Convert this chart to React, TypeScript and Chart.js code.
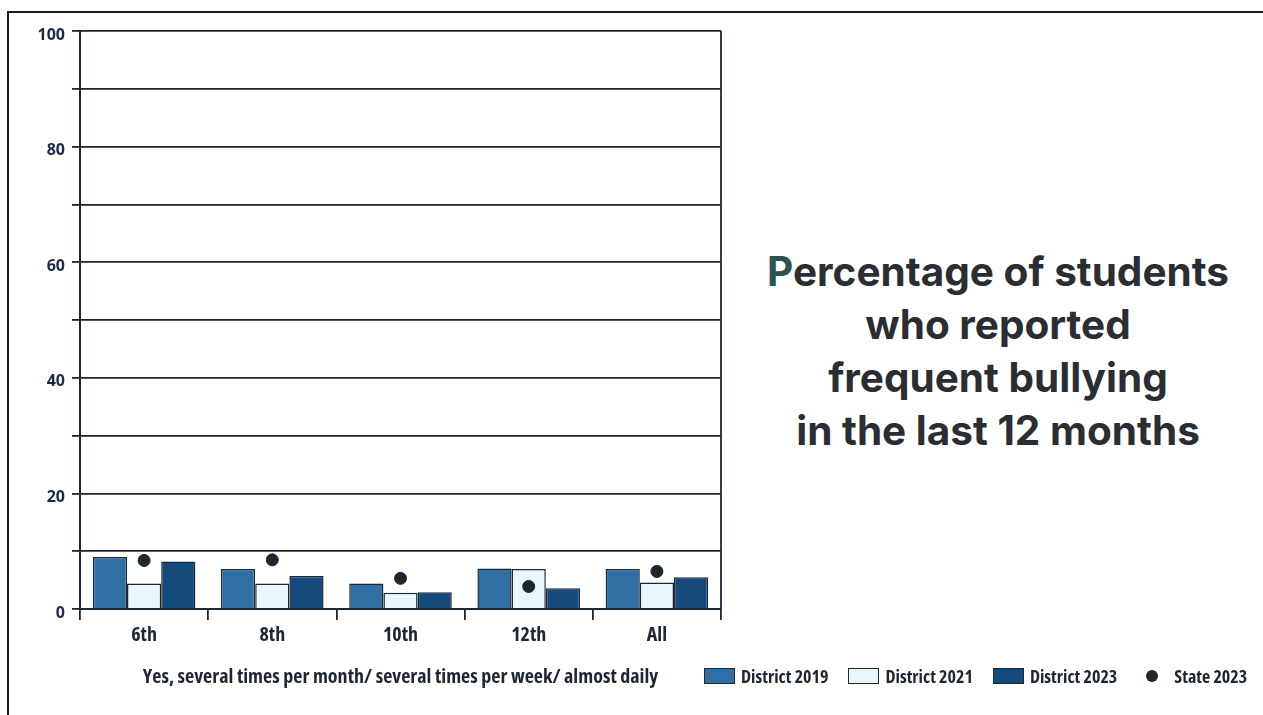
import React, { useEffect, useRef } from "react";
import { Chart, registerables } from "chart.js";

Chart.register(...registerables);

// Grades surveyed
const grades = ["6th", "8th", "10th", "12th", "All"];

// Percent reporting frequent bullying
const district2019 = [9.0, 6.9, 4.4, 7.0, 6.9];
const district2021 = [4.4, 4.4, 2.8, 6.9, 4.6];
const district2023 = [8.2, 5.7, 2.9, 3.6, 5.5];
const state2023 = [8.4, 8.5, 5.3, 3.9, 6.5];

const yTickValues = [0, 20, 40, 60, 80, 100];

const xAxisTitle = "Yes, several times per month/ several times per week/ almost daily";
const titleLines = ["Percentage of students", "who reported", "frequent bullying", "in the last 12 months"];

const INK = "#1c2733";
const COND = "'Open Sans', 'DejaVu Sans', sans-serif";
// canvas font shorthand accepts a stretch keyword after the weight
const COND_WEIGHT = "bold condensed";

const series = [
  { label: "District 2019", data: district2019, color: "#2f6fa4" },
  { label: "District 2021", data: district2021, color: "#e9f6fb" },
  { label: "District 2023", data: district2023, color: "#154a7d" },
];

const rightEdge = {
  id: "rightEdge",
  afterDraw(chart: any) {
    const { ctx, chartArea } = chart;
    ctx.save();
    ctx.strokeStyle = INK;
    ctx.lineWidth = 1.8;
    ctx.beginPath();
    ctx.moveTo(chartArea.right, chartArea.top);
    ctx.lineTo(chartArea.right, chartArea.bottom);
    ctx.stroke();
    ctx.restore();
  },
};

function BullyingChart() {
  const ref = useRef<HTMLCanvasElement | null>(null);

  useEffect(() => {
    if (!ref.current) return;
    const chart = new Chart(ref.current, {
      type: "bar",
      data: {
        labels: grades,
        datasets: [
          ...series.map((s) => ({
            type: "bar" as const,
            label: s.label,
            data: s.data,
            backgroundColor: s.color,
            borderColor: INK,
            borderWidth: 1.5,
            categoryPercentage: 0.8,
            barPercentage: 1.0,
            order: 1,
          })),
          {
            type: "line" as const,
            label: "State 2023",
            data: state2023,
            showLine: false,
            pointRadius: 6,
            pointHoverRadius: 6,
            pointBackgroundColor: INK,
            pointBorderColor: INK,
            order: 0,
          },
        ],
      },
      options: {
        responsive: false,
        animation: false,
        layout: { padding: { left: 0, top: 31, right: 19, bottom: 26 } },
        plugins: { legend: { display: false }, tooltip: { enabled: false } },
        scales: {
          x: {
            offset: true,
            grid: {
              display: true,
              drawOnChartArea: false,
              drawTicks: true,
              tickLength: 11,
              color: INK,
              lineWidth: 1.8,
            },
            border: { display: true, color: INK, width: 2 },
            ticks: {
              color: INK,
              padding: 3,
              font: { family: COND, size: 20, weight: COND_WEIGHT as any },
            },
            title: {
              display: true,
              text: xAxisTitle,
              color: INK,
              padding: { top: 0, bottom: 0 },
              font: { family: COND, size: 20, weight: COND_WEIGHT as any },
            },
            afterFit: (s: any) => {
              s.height = 80;
            },
          },
          y: {
            min: 0,
            max: 100,
            ticks: {
              stepSize: 10,
              color: "#1a2a46",
              padding: 7,
              labelOffset: 4,
              font: { family: "'Open Sans', sans-serif", size: 16, weight: "bold" },
              callback: (v: any) => (yTickValues.includes(Number(v)) ? String(v) : ""),
            },
            grid: { color: "#222222", lineWidth: 1.8, tickLength: 8 },
            border: { display: true, color: INK, width: 2 },
            afterFit: (s: any) => {
              s.width = 80;
            },
          },
        },
      },
      plugins: [rightEdge],
    });
    return () => chart.destroy();
  }, []);

  return <canvas ref={ref} width={740} height={715} style={{ position: "absolute", left: 0, top: 0 }} />;
}

function Legend() {
  const items = [
    ...series.map((s) => ({ label: s.label, color: s.color, dot: false })),
    { label: "State 2023", color: INK, dot: true },
  ];
  return (
    <div
      style={{
        position: "absolute",
        left: 704,
        top: 664,
        display: "flex",
        alignItems: "center",
        fontFamily: COND,
        fontWeight: "bold",
        fontStretch: "condensed",
        fontSize: 18,
        color: INK,
        whiteSpace: "nowrap",
      }}
    >
      {items.map((it) => (
        <div key={it.label} style={{ display: "flex", alignItems: "center", marginRight: it.dot ? 0 : 20 }}>
          {it.dot ? (
            <div style={{ width: 12, height: 12, borderRadius: 6, background: it.color, marginLeft: 9, marginRight: 16 }} />
          ) : (
            <div
              style={{
                width: 29,
                height: 14,
                background: it.color,
                border: `1.5px solid ${INK}`,
                marginRight: 6,
              }}
            />
          )}
          <span>{it.label}</span>
        </div>
      ))}
    </div>
  );
}

export default function App() {
  return (
    <div style={{ position: "absolute", left: 0, top: 0, width: 1263, height: 715, background: "#fff", overflow: "hidden" }}>
      <div
        style={{
          position: "absolute",
          left: 7,
          top: 11,
          right: 0,
          bottom: 0,
          borderTop: "2.5px solid #1a1a1a",
          borderLeft: "2.5px solid #1a1a1a",
        }}
      />
      <BullyingChart />
      <div
        style={{
          position: "absolute",
          left: 748,
          width: 500,
          top: 245,
          textAlign: "center",
          fontFamily: "Inter, 'Open Sans', sans-serif",
          fontWeight: 700,
          fontSize: 40.5,
          lineHeight: "53px",
          color: "#2a2e33",
        }}
      >
        {titleLines.map((t, i) => (
          <div key={t}>
            {i === 0 ? (
              <>
                <span style={{ color: "#2d5250" }}>{t[0]}</span>
                {t.slice(1)}
              </>
            ) : (
              t
            )}
          </div>
        ))}
      </div>
      <Legend />
    </div>
  );
}
